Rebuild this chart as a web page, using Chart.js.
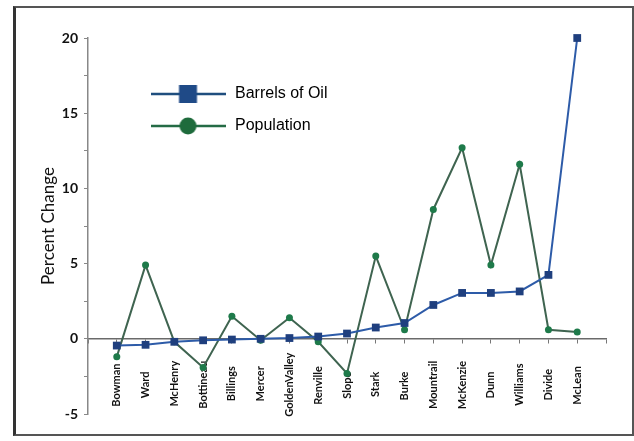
<!DOCTYPE html>
<html>
<head>
<meta charset="utf-8">
<script src="https://cdn.jsdelivr.net/npm/chart.js@4.4.1/dist/chart.umd.min.js"></script>
<style>
    body { margin: 0; background: #fff; }
    #wrap { position: relative; width: 634px; height: 441px; }
    #frame {
        position: absolute; left: 13px; top: 6px; width: 616px; height: 426px;
        border: 2px solid #555; border-left: 3px solid #333; pointer-events: none;
    }
</style>
</head>
<body>
<div id="wrap">
    <canvas id="oilChart" width="634" height="441"></canvas>
    <div id="frame"></div>
</div>
<script>
var counties = ['Bowman', 'Ward', 'McHenry', 'Bottineau', 'Billings', 'Mercer', 'GoldenValley', 'Renville', 'Slope',
    'Stark', 'Burke', 'Mountrail', 'McKenzie', 'Dunn', 'Williams', 'Divide', 'McLean'];
var barrelsOfOil = [-0.45, -0.4, -0.2, -0.1, -0.05, 0, 0.05, 0.15, 0.35, 0.75, 1.05, 2.25, 3.05, 3.05, 3.15, 4.25, 20.0];
var population = [-1.2, 4.9, -0.2, -1.9, 1.5, -0.1, 1.4, -0.2, -2.3, 5.5, 0.6, 8.6, 12.7, 4.9, 11.6, 0.6, 0.45];
var yTicks = [-5, 0, 5, 10, 15, 20];

var labelFont = 'bold 11px Lato';

// pad county names so rotated labels sit centered under the axis
var measure = document.createElement('canvas').getContext('2d');
measure.font = labelFont;
var spaceW = measure.measureText(' ').width;
var maxW = Math.max.apply(null, counties.map(function (c) { return measure.measureText(c).width; }));
var paddedNames = counties.map(function (c) {
    var n = Math.round((maxW - measure.measureText(c).width) / 2 / spaceW);
    return c + ' '.repeat(Math.max(n, 0));
});

function legendIcon(lineColor, markColor, square) {
    var c = document.createElement('canvas');
    c.width = 75;
    c.height = 20;
    var g = c.getContext('2d');
    g.strokeStyle = lineColor;
    g.lineWidth = 2.5;
    g.beginPath();
    g.moveTo(0, 10);
    g.lineTo(75, 10);
    g.stroke();
    g.fillStyle = markColor;
    if (square) {
        g.fillRect(28.5, 1, 18, 18);
    } else {
        g.beginPath();
        g.arc(37.5, 10, 8.5, 0, Math.PI * 2);
        g.fill();
    }
    return c;
}
var icons = [legendIcon('#1f4e7e', '#1f4a87', true), legendIcon('#246b45', '#1e6b3c', false)];

function toPoints(values) {
    return values.map(function (v, i) { return { x: i + 1, y: v }; });
}

var moveLegend = {
    id: 'moveLegend',
    afterLayout: function (chart) {
        var lg = chart.legend;
        lg.left += 45; lg.right += 45;
        lg.top += 70; lg.bottom += 70;
    }
};

var ctx = document.getElementById('oilChart');
var chart = new Chart(ctx, {
    type: 'line',
    data: {
        datasets: [{
            label: 'Barrels of Oil',
            data: toPoints(barrelsOfOil),
            borderColor: '#2d5ba8',
            borderWidth: 2,
            pointStyle: 'rect',
            pointRadius: 5.5,
            pointBackgroundColor: '#1f3f7e',
            pointBorderColor: '#1f3f7e',
            pointBorderWidth: 0,
            tension: 0,
            clip: false
        }, {
            label: 'Population',
            data: toPoints(population),
            borderColor: '#3f6450',
            borderWidth: 2,
            pointStyle: 'circle',
            pointRadius: 3.5,
            pointBackgroundColor: '#1e7a4a',
            pointBorderColor: '#1e7a4a',
            pointBorderWidth: 0,
            tension: 0,
            clip: false
        }]
    },
    options: {
        responsive: false,
        animation: false,
        devicePixelRatio: 1,
        layout: { padding: { left: 28, right: 28, top: 38, bottom: 27 } },
        plugins: {
            tooltip: { enabled: false },
            legend: {
                position: 'chartArea',
                align: 'start',
                labels: {
                    usePointStyle: true,
                    pointStyleWidth: 78,
                    boxHeight: 16,
                    padding: 16,
                    color: '#111',
                    font: { family: 'Liberation Sans', size: 16 },
                    generateLabels: function (chart) {
                        return chart.data.datasets.map(function (ds, i) {
                            return { text: ds.label, pointStyle: icons[i], fillStyle: 'transparent',
                                strokeStyle: 'transparent', lineWidth: 0, datasetIndex: i };
                        });
                    }
                }
            }
        },
        scales: {
            x: {
                type: 'linear',
                position: { y: 0 },
                min: 0,
                max: 18,
                grid: { drawOnChartArea: false, drawTicks: true, tickLength: 4, color: '#777' },
                border: { color: '#6a6a6a', width: 1.5 },
                ticks: {
                    stepSize: 1,
                    autoSkip: false,
                    minRotation: 90,
                    maxRotation: 90,
                    padding: 10,
                    color: '#111',
                    font: { family: 'Lato', size: 11, weight: 'bold' },
                    callback: function (v) { return paddedNames[v - 1] || ''; }
                }
            },
            y: {
                min: yTicks[0],
                max: yTicks[yTicks.length - 1],
                afterFit: function (s) { s.width = 60; },
                grid: { drawOnChartArea: false, drawTicks: true, tickLength: 4, color: '#888' },
                border: { color: '#888', width: 1.5 },
                ticks: {
                    stepSize: 2.5,
                    padding: 6,
                    color: '#111',
                    font: { family: 'Lato', size: 14, weight: 'bold' },
                    callback: function (v) { return yTicks.indexOf(v) >= 0 ? v : ''; }
                },
                title: {
                    display: true,
                    text: 'Percent Change',
                    color: '#111',
                    padding: { top: 10, bottom: 0 },
                    font: { family: 'Lato', size: 17 }
                }
            }
        }
    },
    plugins: [moveLegend]
});
</script>
</body>
</html>
